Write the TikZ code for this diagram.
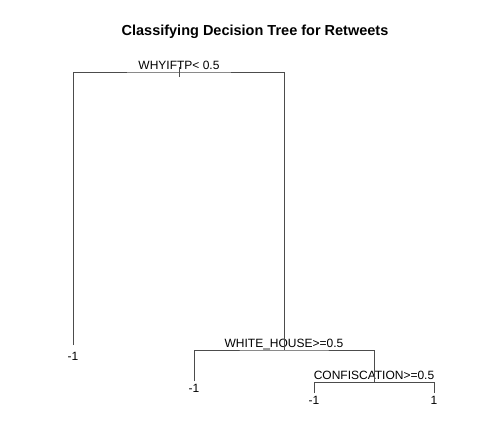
\documentclass[tikz,border=0pt]{standalone}
\usepackage{fontspec}
\setmainfont{Liberation Sans}
\begin{document}
\begin{tikzpicture}[x=1pt,y=-1pt]

        \useasboundingbox (0,0) rectangle (481,421);

        \node[font=\bfseries\fontsize{14.5}{17}\selectfont,anchor=base] (title) at (255,35) {Classifying Decision Tree for Retweets};

        % split points
        \coordinate (s1) at (179,72);
        \coordinate (s2) at (284,350);
        \coordinate (s3) at (374,382);
        \coordinate (t1) at (179,67);
        \coordinate (t2) at (179,77);

        \begin{scope}[every node/.style={anchor=base,inner sep=0pt,font=\fontsize{12}{14}\selectfont}]
          \node (r1) at (179,69)  {WHYIFTP< 0.5};
          \node (r2) at (284,347) {WHITE\_HOUSE>=0.5};
          \node (r3) at (374,379) {CONFISCATION>=0.5};
        \end{scope}

        \begin{scope}[every node/.style={anchor=north,inner sep=3pt,font=\fontsize{12}{14}\selectfont}]
          \node[inner ysep=7pt] (l1) at (73,345) {-1};
          \node (l2) at (194,381) {-1};
          \node (l3) at (314,393) {-1};
          \node (l4) at (434,393) {1};
        \end{scope}

        \begin{scope}[every path/.style={draw=black!70,line width=0.8pt}]
          \path (t1) -- (t2);
          \path (l1.north) |- (s1) -| (s2);
          \path (l2.north) |- (s2) -| (s3);
          \path (l3.north) |- (s3) -| (l4.north);
        \end{scope}

      \end{tikzpicture}
\end{document}
